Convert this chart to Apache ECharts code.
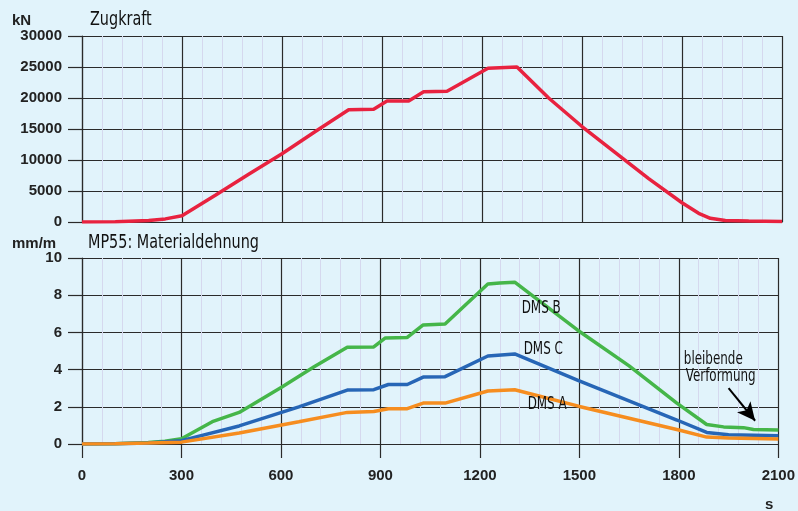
<!DOCTYPE html>
<html>
<head>
<meta charset="utf-8">
<script src="https://cdn.jsdelivr.net/npm/echarts@6/dist/echarts.min.js"></script>
<style>
  html, body { margin: 0; padding: 0; background: #e1f3fb; }
  #chart { width: 798px; height: 511px; }
</style>
</head>
<body>
<div id="chart"></div>
<script>
// Zugkraft (kN) over time (s)
const zugTime  = [0, 100, 200, 250, 300, 400, 500, 600, 700, 800, 875, 915, 980, 1025, 1095, 1218, 1305, 1400, 1500, 1600, 1700, 1800, 1850, 1885, 1930, 2000, 2100];
const zugKraft = [0, 50, 250, 500, 1000, 4300, 7700, 11000, 14600, 18100, 18200, 19500, 19500, 21000, 21100, 24800, 25000, 20000, 15400, 11200, 7000, 3100, 1400, 600, 250, 150, 100];

// Materialdehnung (mm/m)
const dmsBTime = [0, 100, 200, 250, 300, 393, 474, 603, 700, 800, 880, 915, 980, 1029, 1095, 1224, 1260, 1305, 1494, 1650, 1794, 1884, 1935, 1995, 2025, 2100];
const dmsB     = [0, 0.02, 0.08, 0.15, 0.28, 1.2, 1.7, 3.07, 4.15, 5.2, 5.22, 5.7, 5.72, 6.4, 6.45, 8.6, 8.66, 8.7, 6.13, 4.2, 2.2, 1.05, 0.92, 0.88, 0.78, 0.75];
const dmsCTime = [0, 100, 200, 300, 474, 654, 800, 880, 924, 981, 1029, 1095, 1224, 1305, 1494, 1794, 1884, 1950, 2100];
const dmsC     = [0, 0.02, 0.06, 0.18, 0.97, 2.0, 2.9, 2.92, 3.2, 3.2, 3.6, 3.62, 4.73, 4.84, 3.44, 1.29, 0.62, 0.5, 0.45];
const dmsATime = [0, 100, 200, 300, 474, 654, 800, 880, 924, 981, 1029, 1095, 1224, 1305, 1500, 1800, 1884, 1950, 2100];
const dmsA     = [0, 0.02, 0.05, 0.1, 0.59, 1.2, 1.7, 1.75, 1.9, 1.9, 2.2, 2.2, 2.85, 2.92, 2.02, 0.75, 0.37, 0.32, 0.27];

// annotation texts and where they sit (s, mm/m)
const notes = [
  { text: 'DMS B', at: [1326, 7.3] },
  { text: 'DMS C', at: [1332, 5.05] },
  { text: 'DMS A', at: [1344, 2.1] },
  { text: 'bleibende', at: [1815, 4.55] },
  { text: 'Verformung', at: [1821, 3.6] }
];
const arrowFrom = [1950, 3.0];
const arrowTo = [2030, 1.25];

const pairs = (xs, ys) => xs.map((x, i) => [x, ys[i]]);

const boldFont = 'Liberation Sans, Arial, sans-serif';
const narrowFont = 'DejaVu Sans Condensed, DejaVu Sans, sans-serif';
const axisFont = { color: '#222', fontWeight: 'bold', fontSize: 15, fontFamily: boldFont };
const major = { show: true, lineStyle: { color: '#2a2a2a', width: 1.2 } };
const minor = { show: true, lineStyle: { color: '#d5d8ee', width: 1 } };

function xAxis(gridIndex, showLabels) {
  return {
    type: 'value', gridIndex: gridIndex, min: 0, max: 2100, interval: 300,
    axisLine: { show: true, onZero: false, lineStyle: { color: '#2a2a2a', width: 1.2 } },
    axisTick: { show: showLabels, length: 14, lineStyle: { color: '#2a2a2a', width: 1.2 } },
    axisLabel: Object.assign({ show: showLabels, margin: 24, formatter: v => String(v) }, axisFont),
    splitLine: major,
    minorTick: { show: false, splitNumber: 5 },
    minorSplitLine: minor
  };
}
function yAxis(gridIndex, max, interval) {
  return {
    type: 'value', gridIndex: gridIndex, min: 0, max: max, interval: interval,
    axisLine: { show: true, lineStyle: { color: '#2a2a2a', width: 1.2 } },
    axisTick: { show: true, length: 14, lineStyle: { color: '#2a2a2a', width: 1.2 } },
    axisLabel: Object.assign({ margin: 20, formatter: v => String(v) }, axisFont),
    splitLine: major
  };
}
function line(name, xi, data, color) {
  return {
    name: name, type: 'line', xAxisIndex: xi, yAxisIndex: xi,
    data: data, symbol: 'none', smooth: false,
    lineStyle: { color: color, width: 3.5 }, z: 5
  };
}

const chart = echarts.init(document.getElementById('chart'), null, { renderer: 'canvas' });

const dmsBSeries = line('DMS B', 1, pairs(dmsBTime, dmsB), '#45b649');
dmsBSeries.markLine = {
  silent: true, symbol: ['none', 'arrow'], symbolSize: [13, 18],
  lineStyle: { color: '#000', width: 2, type: 'solid' },
  label: { show: false },
  data: [[{ coord: arrowFrom }, { coord: arrowTo }]]
};

const headers = [
  { type: 'text', left: 12, top: 13, style: { text: 'kN', font: 'bold 15px ' + boldFont, fill: '#222' } },
  { type: 'text', x: 90, y: 10, scaleX: 0.8, style: { text: 'Zugkraft', font: '20px ' + narrowFont, fill: '#111' } },
  { type: 'text', left: 12, top: 236, style: { text: 'mm/m', font: 'bold 15px ' + boldFont, fill: '#222' } },
  { type: 'text', x: 88, y: 233, scaleX: 0.8, style: { text: 'MP55: Materialdehnung', font: '20px ' + narrowFont, fill: '#111' } },
  { type: 'text', left: 765, top: 497, style: { text: 's', font: 'bold 15px ' + boldFont, fill: '#222' } }
];

chart.setOption({
  backgroundColor: '#e1f3fb',
  animation: false,
  grid: [
    { left: 82, right: 16, top: 36, height: 186 },
    { left: 82, right: 16, top: 258, height: 186 }
  ],
  xAxis: [xAxis(0, false), xAxis(1, true)],
  yAxis: [yAxis(0, 30000, 5000), yAxis(1, 10, 2)],
  series: [
    line('Zugkraft', 0, pairs(zugTime, zugKraft), '#e8223f'),
    dmsBSeries,
    line('DMS C', 1, pairs(dmsCTime, dmsC), '#2766b6'),
    line('DMS A', 1, pairs(dmsATime, dmsA), '#f68d1f')
  ],
  graphic: headers
});

// place annotation texts at data positions of the lower grid
const noteGraphics = notes.map(n => {
  const p = chart.convertToPixel({ gridIndex: 1 }, n.at);
  return {
    type: 'text', x: p[0], y: p[1], scaleX: 0.78, z: 100,
    style: { text: n.text, font: '17px ' + narrowFont, fill: '#111', verticalAlign: 'middle' }
  };
});
chart.setOption({ graphic: headers.concat(noteGraphics) });
</script>
</body>
</html>
